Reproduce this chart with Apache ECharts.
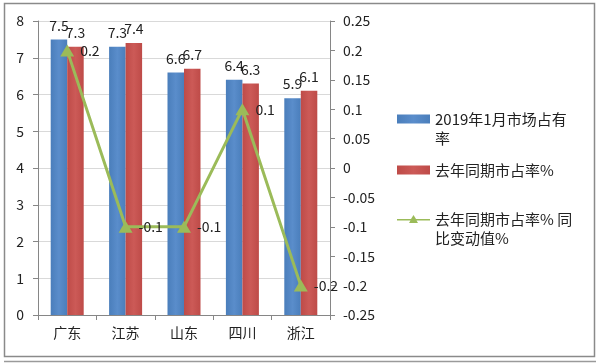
<!DOCTYPE html>
<html><head><meta charset="utf-8">
<script src="https://cdn.jsdelivr.net/npm/echarts@6/dist/echarts.min.js"></script>
<style>html,body{margin:0;padding:0;background:#fff}#c{width:600px;height:363px}</style>
</head><body><div id="c"></div>
<script>
const categories = ['广东','江苏','山东','四川','浙江'];
const share2019 = [7.5, 7.3, 6.6, 6.4, 5.9];
const shareLastYear = [7.3, 7.4, 6.7, 6.3, 6.1];
const shareChange = [0.2, -0.1, -0.1, 0.1, -0.2];
const leftTicks = {min: 0, max: 8, interval: 1};
const rightTicks = {min: -0.25, max: 0.25, interval: 0.05};
const names = ['2019年1月市场占有率', '去年同期市占率%', '去年同期市占率%同比变动值%'];
const legendFirstLine = {
  '2019年1月市场占有率': '2019年1月市场占有',
  '去年同期市占率%': '去年同期市占率%',
  '去年同期市占率%同比变动值%': '去年同期市占率% 同'
};
const legendSecondLine = ['率', '', '比变动值%'];

const FONT = '"Noto Sans CJK SC", "Noto Sans", sans-serif';
const LEG_FS = 15;
const chart = echarts.init(document.getElementById('c'), null, {renderer: 'canvas'});
const lbl = {show: true, position: 'top', distance: 7, color: '#222', fontSize: 14, fontFamily: FONT};
function grad(c1, c2) {
  return new echarts.graphic.LinearGradient(0, 0, 1, 0, [{offset: 0, color: c1}, {offset: 0.5, color: c2}, {offset: 1, color: c1}]);
}
const legendTops = [110, 161, 210];
function legendItem(i, icon) {
  const d = {name: names[i], icon: icon || 'rect'};
  if (icon) d.itemStyle = {color: '#9BBB59'};
  return {
    orient: 'vertical', left: 397, top: legendTops[i], padding: 0,
    data: [d],
    itemWidth: 33, itemHeight: 9, itemGap: 0,
    formatter: n => legendFirstLine[n],
    textStyle: {fontSize: LEG_FS, color: '#222', fontFamily: FONT, lineHeight: 18}
  };
}
const secondLines = [];
legendSecondLine.forEach((t, i) => {
  if (t) secondLines.push({type: 'text', left: 435, top: legendTops[i] + 21,
    style: {text: t, font: LEG_FS + 'px ' + FONT, fill: '#222'}, silent: true});
});
chart.setOption({
  animation: false,
  backgroundColor: '#fff',
  textStyle: {fontFamily: FONT},
  grid: {left: 38, right: 270, top: 21, bottom: 48},
  legend: [
    legendItem(0),
    legendItem(1),
    legendItem(2, 'path://M0,4 L14,4 L16.5,0 L19,4 L33,4 L33,5.5 L19.5,5.5 L21,8 L12,8 L13.5,5.5 L0,5.5 Z')
  ],
  graphic: [
    {type: 'rect', shape: {x: 4.5, y: 3.5, width: 590, height: 353}, style: {fill: null, stroke: '#8a8a8a', lineWidth: 1.5}, silent: true},
    {type: 'line', shape: {x1: 4, y1: 361.5, x2: 596, y2: 361.5}, style: {stroke: '#9a9a9a', lineWidth: 1.5}, silent: true}
  ].concat(secondLines),
  xAxis: {
    type: 'category', data: categories,
    axisLine: {lineStyle: {color: '#868686'}},
    axisTick: {show: true, length: 5, lineStyle: {color: '#868686'}},
    axisLabel: {fontSize: 14, color: '#222', margin: 11, fontFamily: FONT}
  },
  yAxis: [
    {type: 'value', min: leftTicks.min, max: leftTicks.max, interval: leftTicks.interval,
      axisLine: {show: true, lineStyle: {color: '#868686'}},
      axisTick: {show: true, length: 5, lineStyle: {color: '#868686'}},
      splitLine: {lineStyle: {color: '#d9d9d9'}},
      axisLabel: {fontSize: 14, color: '#222', margin: 14, fontFamily: FONT}},
    {type: 'value', min: rightTicks.min, max: rightTicks.max, interval: rightTicks.interval,
      position: 'right',
      axisLine: {show: true, lineStyle: {color: '#868686'}},
      axisTick: {show: true, length: 5, lineStyle: {color: '#868686'}},
      splitLine: {show: false},
      axisLabel: {fontSize: 14, color: '#222', margin: 13, fontFamily: FONT,
        formatter: v => String(Math.round(v * 100) / 100)}}
  ],
  series: [
    {name: names[0], type: 'bar', data: share2019, barWidth: 16.5, barGap: '0%',
      itemStyle: {color: grad('#4A7EBB', '#5A8DCB')}, label: lbl},
    {name: names[1], type: 'bar', data: shareLastYear, barWidth: 16.5, barGap: '0%',
      itemStyle: {color: grad('#BE4B48', '#CC5A57')}, label: lbl},
    {name: names[2], type: 'line', yAxisIndex: 1, data: shareChange,
      symbol: 'triangle', symbolSize: [14, 12],
      lineStyle: {color: '#9BBB59', width: 3}, itemStyle: {color: '#9BBB59'},
      label: {show: true, position: 'right', distance: 6, color: '#222', fontSize: 14, fontFamily: FONT}}
  ]
});
</script></body></html>
